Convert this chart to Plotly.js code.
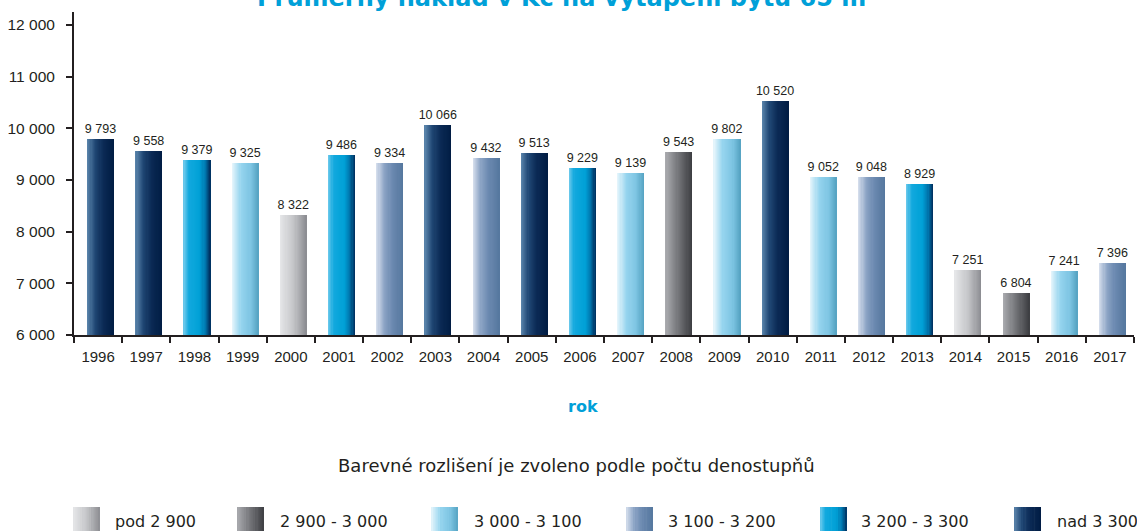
<!DOCTYPE html>
<html>
<head>
<meta charset="utf-8">
<script src="https://cdn.plot.ly/plotly-3.0.1.min.js"></script>
<style>html,body{margin:0;padding:0;background:#fff;}#chart{width:1137px;height:531px;}</style>
</head>
<body>
<div id="chart"></div>
<script>
// ---- data ----
const years = ['1996','1997','1998','1999','2000','2001','2002','2003','2004','2005','2006','2007','2008','2009','2010','2011','2012','2013','2014','2015','2016','2017'];
const costs = [9793,9558,9379,9325,8322,9486,9334,10066,9432,9513,9229,9139,9543,9802,10520,9052,9048,8929,7251,6804,7241,7396];
// degree-day band per year (index into bandLabels)
const yearBand = [5,5,4,2,0,4,3,5,3,5,4,2,1,2,5,2,3,4,0,1,2,3];
const bandLabels = ['pod 2 900','2 900 - 3 000','3 000 - 3 100','3 100 - 3 200','3 200 - 3 300','nad 3 300'];
const titleText = 'Průměrný náklad v Kč na vytápění bytu 65 m²';
const xTitle = 'rok';
const noteText = 'Barevné rozlišení je zvoleno podle počtu denostupňů';

// ---- styles ----
const gradients = [
  [[0,'#e6e7e9'],[0.5,'#c5c6c9'],[1,'#8b8c91']],
  [[0,'#abacb0'],[0.5,'#727377'],[1,'#3c3d41']],
  [[0,'#e8f6fc'],[0.35,'#95d4ee'],[0.7,'#7ec5e3'],[1,'#55a3c2']],
  [[0,'#d8e0ee'],[0.3,'#8ca4c5'],[0.6,'#6b89b0'],[1,'#55779e']],
  [[0,'#70cbed'],[0.2,'#12a9de'],[0.6,'#00a0d6'],[0.8,'#0079b1'],[1,'#002b5a']],
  [[0,'#5c86ad'],[0.3,'#1f4673'],[0.6,'#0b2a55'],[1,'#001c43']]
];
function hex2rgb(h){return [1,3,5].map(i=>parseInt(h.substr(i,2),16));}
function gradAt(stops,t){
  for(let k=0;k<stops.length-1;k++){
    const a=stops[k], b=stops[k+1];
    if(t<=b[0]){
      const f=(t-a[0])/(b[0]-a[0]);
      const ca=hex2rgb(a[1]), cb=hex2rgb(b[1]);
      const c=ca.map((v,i)=>Math.round(v+(cb[i]-v)*f));
      return 'rgb('+c.join(',')+')';
    }
  }
  return stops[stops.length-1][1];
}
function fmt(v){return String(v).replace(/\B(?=(\d{3})+(?!\d))/g,' ');}

const N = 24;          // gradient slices per bar
const barW = 0.555;    // bar width in category units
const shift = 0.05;    // small right shift of bars in each band
const traces = [];
for(let i=0;i<N;i++){
  const t=(i+0.5)/N;
  traces.push({
    type:'bar', x:years, y:costs,
    width: barW/N*1.25,
    offset: -barW/2 + i*barW/N + shift,
    marker:{color: yearBand.map(b=>gradAt(gradients[b],t)), line:{width:0}},
    hoverinfo:'skip', showlegend:false
  });
}
traces.push({
  type:'bar', x:years, y:costs, width:barW, offset:-barW/2+shift,
  marker:{color:'rgba(0,0,0,0)', line:{width:0}},
  text: costs.map(fmt), textposition:'outside', cliponaxis:false, constraintext:'none',
  textfont:{family:'Liberation Sans', size:12.5, color:'#231f20'},
  hoverinfo:'skip', showlegend:false
});

const L=74, R=3, T=12, B=196, W=1137, H=531;
const pw=W-L-R, ph=H-T-B;
const px = x => (x-L)/pw;
const py = y => (H-B-y)/ph;

const shapes=[], annotations=[];
const swLeft=[73,237,431,626,820,1014], txLeft=[113,278,472,666,859,1055];
const sw=27, swTop=507, M=12;
bandLabels.forEach((lab,k)=>{
  for(let i=0;i<M;i++){
    const x0=swLeft[k]+i*sw/M, x1=swLeft[k]+(i+1)*sw/M+0.6;
    shapes.push({type:'rect',xref:'paper',yref:'paper',x0:px(x0),x1:px(Math.min(x1,swLeft[k]+sw)),y0:py(swTop),y1:py(swTop+sw),
      fillcolor:gradAt(gradients[k],(i+0.5)/M),line:{width:0},layer:'above'});
  }
  annotations.push({xref:'paper',yref:'paper',x:px(txLeft[k]),y:py(521),xanchor:'left',yanchor:'middle',
    text:lab,showarrow:false,font:{family:'DejaVu Sans',size:16,color:'#231f20'}});
});
annotations.push({xref:'paper',yref:'paper',x:px(567),y:py(-2),xanchor:'center',yanchor:'middle',
  text:titleText,showarrow:false,font:{family:'DejaVu Sans',size:24,color:'#00a0d8',weight:'bold'}});
annotations.push({xref:'paper',yref:'paper',x:px(583),y:py(407),xanchor:'center',yanchor:'middle',
  text:'<b>'+xTitle+'</b>',showarrow:false,font:{family:'DejaVu Sans',size:16,color:'#00a0d8'}});
annotations.push({xref:'paper',yref:'paper',x:px(576),y:py(465),xanchor:'center',yanchor:'middle',
  text:noteText,showarrow:false,font:{family:'DejaVu Sans',size:18,color:'#231f20'}});

const layout={
  width:W,height:H,margin:{l:L,r:R,t:T,b:B,pad:0},
  paper_bgcolor:'#fff',plot_bgcolor:'#fff',
  barmode:'overlay', bargap:0,
  separators:', ',
  xaxis:{type:'category',tickson:'boundaries',ticks:'outside',ticklen:6,tickwidth:2,tickcolor:'#231f20',
    showline:true,linecolor:'#231f20',linewidth:2,showgrid:false,zeroline:false,fixedrange:true,
    ticklabelstandoff:7,tickfont:{family:'Liberation Sans',size:15,color:'#231f20'}},
  yaxis:{range:[6000,12250],dtick:1000,tick0:6000,tickformat:',d',ticks:'outside',ticklen:6,tickwidth:2,tickcolor:'#231f20',
    showline:true,linecolor:'#231f20',linewidth:2,showgrid:false,zeroline:false,
    ticklabelstandoff:8,tickfont:{family:'Liberation Sans',size:15.5,color:'#231f20'}},
  shapes:shapes, annotations:annotations, showlegend:false
};
Plotly.newPlot('chart',traces,layout,{staticPlot:true});
</script>
</body>
</html>
